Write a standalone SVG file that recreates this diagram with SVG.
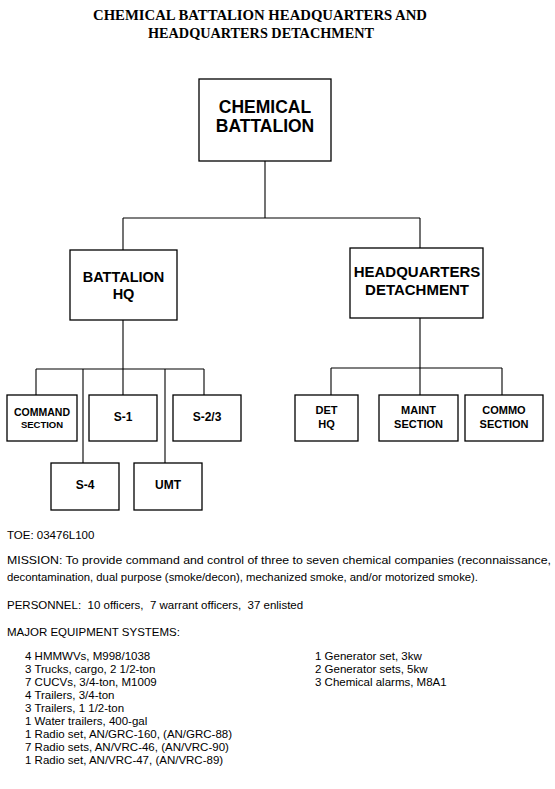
<svg xmlns="http://www.w3.org/2000/svg" width="555" height="789" viewBox="0 0 555 789">
<style>
.box{fill:#fff;stroke:#000;stroke-width:1.3}
.ln{stroke:#000;stroke-width:1.1;fill:none}
.t{font-family:"Liberation Serif","Times New Roman",serif;font-weight:bold;font-size:14px;fill:#000}
.n{font-family:"Liberation Sans",Arial,sans-serif;font-weight:bold;fill:#000;text-anchor:middle}
.b{font-family:"Liberation Sans",Arial,sans-serif;font-size:11.5px;fill:#000}
</style>
<rect width="555" height="789" fill="#fff"/>
<text class="t" x="93" y="20" textLength="334" lengthAdjust="spacingAndGlyphs">CHEMICAL BATTALION HEADQUARTERS AND</text>
<text class="t" x="148" y="38" textLength="226" lengthAdjust="spacingAndGlyphs">HEADQUARTERS   DETACHMENT</text>
<g id="connectors">
<path class="ln" d="M265 161V218M123 218H420M123 218V250M420 218V248"/>
<path class="ln" d="M123 320V369M36 369H204M36 369V395M83 369V463M123 369V395M165 369V463M204 369V395"/>
<path class="ln" d="M420 318V368M331 368H502M331 368V395M420 368V395M502 368V395"/>
</g>
<g id="chemical-battalion">
<rect class="box" x="199" y="79" width="132" height="82"/>
<text class="n" x="265" y="113" font-size="17.5">CHEMICAL</text>
<text class="n" x="265" y="132" font-size="17.5">BATTALION</text>
</g>
<g id="battalion-hq">
<rect class="box" x="70" y="250" width="107" height="70"/>
<text class="n" x="123.5" y="282" font-size="14.5">BATTALION</text>
<text class="n" x="123.5" y="299" font-size="14.5">HQ</text>
</g>
<g id="hq-detachment">
<rect class="box" x="350" y="248" width="133" height="70"/>
<text class="n" x="417" y="277" font-size="15">HEADQUARTERS</text>
<text class="n" x="417" y="295" font-size="15">DETACHMENT</text>
</g>
<g id="command-section">
<rect class="box" x="7" y="395" width="70" height="46"/>
<text class="n" x="42" y="416" font-size="10.5">COMMAND</text>
<text class="n" x="42" y="428" font-size="9.5">SECTION</text>
</g>
<g id="s1">
<rect class="box" x="89" y="395" width="68" height="46"/>
<text class="n" x="123" y="421" font-size="12">S-1</text>
</g>
<g id="s23">
<rect class="box" x="173" y="395" width="68" height="46"/>
<text class="n" x="207" y="421" font-size="12">S-2/3</text>
</g>
<g id="s4">
<rect class="box" x="51" y="463" width="68" height="47"/>
<text class="n" x="85" y="489" font-size="12">S-4</text>
</g>
<g id="umt">
<rect class="box" x="134" y="463" width="68" height="47"/>
<text class="n" x="168" y="489" font-size="12">UMT</text>
</g>
<g id="det-hq">
<rect class="box" x="295" y="395" width="63" height="46"/>
<text class="n" x="326.5" y="414" font-size="11">DET</text>
<text class="n" x="326.5" y="428" font-size="11">HQ</text>
</g>
<g id="maint-section">
<rect class="box" x="379" y="395" width="79" height="46"/>
<text class="n" x="418.5" y="414" font-size="11">MAINT</text>
<text class="n" x="418.5" y="428" font-size="11">SECTION</text>
</g>
<g id="commo-section">
<rect class="box" x="465" y="395" width="78" height="46"/>
<text class="n" x="504" y="414" font-size="11">COMMO</text>
<text class="n" x="504" y="428" font-size="11">SECTION</text>
</g>
<g id="text">
<text class="b" x="7" y="539">TOE: 03476L100</text>
<text class="b" x="7" y="564" textLength="544" lengthAdjust="spacingAndGlyphs">MISSION:  To provide command and control of three to seven chemical companies (reconnaissance,</text>
<text class="b" x="7" y="581" textLength="471" lengthAdjust="spacingAndGlyphs">decontamination, dual purpose (smoke/decon), mechanized smoke, and/or motorized smoke).</text>
<text class="b" x="7" y="609" xml:space="preserve">PERSONNEL:  10 officers,  7 warrant officers,  37 enlisted</text>
<text class="b" x="7" y="636">MAJOR EQUIPMENT SYSTEMS:</text>
<text class="b" x="25" y="660">4 HMMWVs, M998/1038</text>
<text class="b" x="25" y="673">3 Trucks, cargo, 2 1/2-ton</text>
<text class="b" x="25" y="686">7 CUCVs, 3/4-ton, M1009</text>
<text class="b" x="25" y="699">4 Trailers, 3/4-ton</text>
<text class="b" x="25" y="712">3 Trailers, 1 1/2-ton</text>
<text class="b" x="25" y="725">1 Water trailers, 400-gal</text>
<text class="b" x="25" y="738">1 Radio set, AN/GRC-160, (AN/GRC-88)</text>
<text class="b" x="25" y="751">7 Radio sets, AN/VRC-46, (AN/VRC-90)</text>
<text class="b" x="25" y="764">1 Radio set, AN/VRC-47, (AN/VRC-89)</text>
<text class="b" x="315" y="660">1 Generator set, 3kw</text>
<text class="b" x="315" y="673">2 Generator sets, 5kw</text>
<text class="b" x="315" y="686">3 Chemical alarms, M8A1</text>
</g>
</svg>
